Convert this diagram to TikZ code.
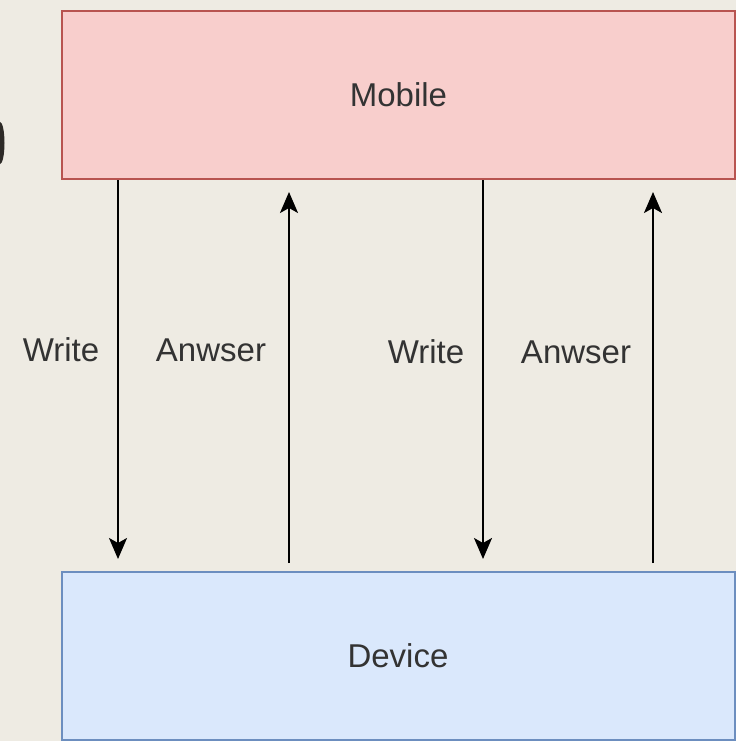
\documentclass[tikz,border=0pt]{standalone}
\usepackage{fontspec}
\setmainfont{Liberation Sans}
\usepackage{xcolor}
\usetikzlibrary{arrows.meta,calc}

\definecolor{paper}{RGB}{238,235,227}
\definecolor{mobfill}{HTML}{F8CECC}
\definecolor{mobline}{HTML}{B85450}
\definecolor{devfill}{HTML}{DAE8FC}
\definecolor{devline}{HTML}{6C8EBF}
\definecolor{txt}{HTML}{333333}

\begin{document}
\begin{tikzpicture}[x=1pt,y=1pt,
    box/.style={draw, line width=2pt, minimum width=673pt, minimum height=168pt,
      inner sep=0pt, text=txt, font=\fontsize{33}{38}\selectfont},
    lbl/.style={text=txt, inner sep=0pt, font=\fontsize{33}{38}\selectfont},
    arr/.style={draw=black, line width=2pt, -{Stealth[length=21pt,width=18pt,inset=5pt]}}]
  % background
  \fill[paper] (0,0) rectangle (736,-741);
  \useasboundingbox (0,0) rectangle (736,-741);
  % cut piece at the left edge
  \fill[black!90!olive] (0,-122) arc[start angle=90, end angle=-90, x radius=4.5, y radius=21];

  % the two boxes
  \node[box, fill=mobfill, draw=mobline] (mobile) at (398.5,-95) {Mobile};
  \node[box, fill=devfill, draw=devline] (device) at (398,-656) {Device};

  % write arrows (down)
  \path ([xshift=-280.5pt]mobile.south) coordinate (w1top);
  \path ([xshift=84.5pt]mobile.south) coordinate (w2top);
  \draw[arr] (w1top) -- ([yshift=12pt]w1top |- device.north);
  \draw[arr] (w2top) -- ([yshift=12pt]w2top |- device.north);

  % answer arrows (up)
  \path ([xshift=-109pt,yshift=8pt]device.north) coordinate (a1bot);
  \path ([xshift=255pt,yshift=8pt]device.north) coordinate (a2bot);
  \draw[arr] (a1bot) -- ([yshift=-12pt]a1bot |- mobile.south);
  \draw[arr] (a2bot) -- ([yshift=-12pt]a2bot |- mobile.south);

  % labels
  \node[lbl] (write1) at (61,-350) {Write};
  \node[lbl] (answer1) at (211,-350) {Anwser};
  \node[lbl] (write2) at (426,-352) {Write};
  \node[lbl] (answer2) at (576,-352) {Anwser};
\end{tikzpicture}
\end{document}
